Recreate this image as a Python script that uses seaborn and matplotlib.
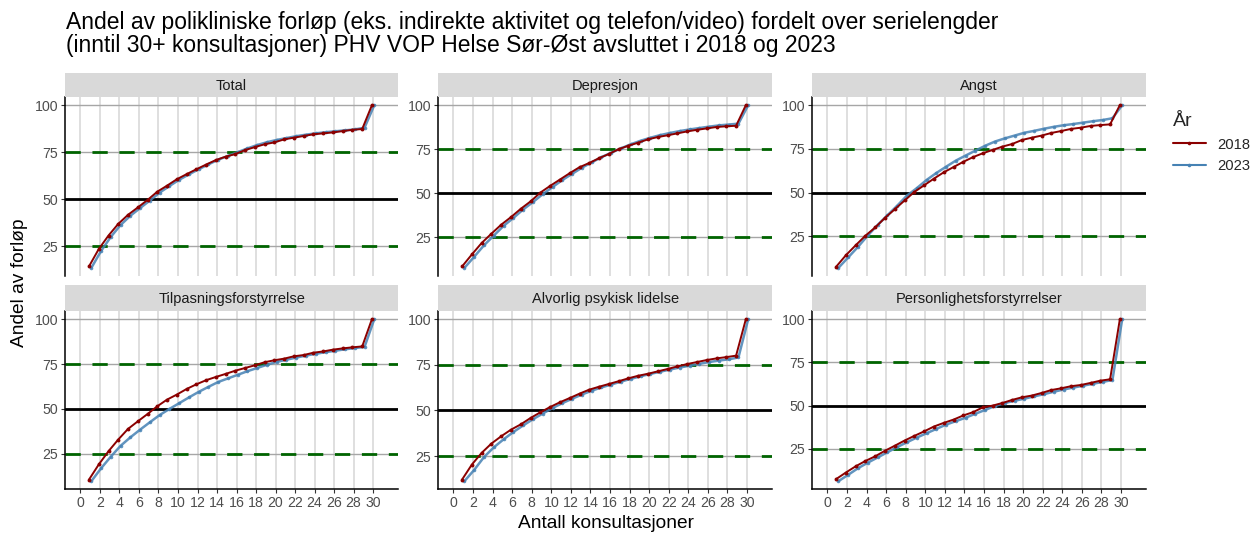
import numpy as np
import pandas as pd
import matplotlib
matplotlib.use("Agg")
import matplotlib.pyplot as plt
from matplotlib.lines import Line2D
import seaborn as sns

# Number of consultations (1..30, where 30 means 30+)
konsultasjoner = list(range(1, 31))
grupper = ["Total", "Depresjon", "Angst",
           "Tilpasningsforstyrrelse", "Alvorlig psykisk lidelse", "Personlighetsforstyrrelser"]
aar = ["2018", "2023"]

# Cumulative share of finished courses (%) per group and year
total_2018 = [14.3, 23.5, 30.7, 36.9, 41.7, 45.6, 49.6, 54.0, 57.2, 60.6, 63.3, 65.9, 68.4, 70.8, 72.6,
              74.0, 76.1, 77.7, 79.2, 80.2, 81.8, 82.7, 83.6, 84.5, 85.0, 85.5, 86.2, 86.9, 87.3, 100.0]
total_2023 = [13.5, 22.5, 30.0, 36.3, 41.2, 45.3, 49.3, 53.5, 57.0, 60.3, 63.2, 65.9, 68.5, 71.0, 73.0,
              75.0, 77.0, 78.8, 80.3, 81.5, 82.5, 83.5, 84.3, 85.0, 85.6, 86.1, 86.6, 87.1, 88.0, 100.0]
depresjon_2018 = [8.5, 15.3, 21.8, 27.1, 32.2, 36.5, 41.2, 45.4, 50.4, 54.2, 57.8, 61.4, 64.8, 67.2, 69.9,
                  72.3, 75.0, 77.0, 78.7, 80.6, 81.9, 82.9, 84.0, 85.1, 86.0, 86.8, 87.6, 88.0, 88.3, 100.0]
depresjon_2023 = [7.7, 14.0, 20.5, 26.0, 31.5, 36.0, 40.8, 45.0, 49.5, 53.5, 57.5, 61.0, 64.5, 67.5, 70.5,
                  73.0, 75.5, 77.8, 79.8, 81.5, 83.0, 84.2, 85.3, 86.2, 87.0, 87.8, 88.5, 89.0, 89.5, 100.0]
angst_2018 = [7.6, 14.2, 19.9, 25.4, 30.1, 35.6, 40.5, 45.5, 50.4, 54.2, 58.0, 61.6, 64.6, 67.6, 70.3,
              72.5, 74.4, 76.3, 77.8, 80.1, 81.4, 82.6, 84.1, 85.2, 86.4, 87.1, 88.1, 88.6, 89.0, 100.0]
angst_2023 = [7.0, 13.0, 19.0, 25.5, 31.5, 37.0, 42.5, 48.3, 52.5, 57.2, 61.2, 64.8, 68.3, 71.2, 74.0,
              76.8, 79.2, 81.0, 82.6, 84.2, 85.3, 86.5, 87.6, 88.5, 89.2, 90.0, 90.8, 91.5, 92.5, 100.0]
tilpasning_2018 = [10.7, 19.1, 26.5, 33.0, 38.9, 43.1, 47.2, 51.5, 55.2, 58.0, 61.1, 63.7, 66.0, 67.8, 69.5,
                   71.3, 72.8, 74.3, 76.0, 77.1, 78.0, 79.3, 80.0, 81.3, 82.0, 83.0, 83.7, 84.3, 84.8, 100.0]
tilpasning_2023 = [9.8, 17.0, 23.5, 29.5, 34.2, 38.5, 42.6, 46.6, 50.0, 53.2, 56.4, 59.5, 62.3, 65.0, 67.0,
                   69.0, 71.0, 72.8, 74.6, 76.2, 77.4, 78.6, 79.7, 80.7, 81.6, 82.4, 83.2, 83.9, 84.5, 100.0]
alvorlig_2018 = [12.2, 20.4, 26.8, 31.9, 35.9, 39.5, 42.4, 45.9, 49.0, 51.9, 54.5, 56.8, 59.2, 61.4, 63.0,
                 64.5, 66.0, 67.6, 69.0, 70.1, 71.4, 72.7, 74.1, 75.4, 76.5, 77.6, 78.5, 79.2, 80.0, 100.0]
alvorlig_2023 = [11.3, 17.5, 24.5, 29.8, 34.2, 38.2, 41.8, 45.2, 48.3, 51.3, 54.0, 56.4, 58.7, 60.8, 62.6,
                 64.2, 65.8, 67.3, 68.7, 70.0, 71.2, 72.4, 73.5, 74.5, 75.5, 76.5, 77.3, 78.0, 79.0, 100.0]
personlighet_2018 = [7.5, 11.3, 14.9, 18.0, 20.7, 23.9, 26.8, 29.8, 32.5, 35.1, 37.9, 40.0, 41.9, 44.3, 46.2,
                     49.0, 50.0, 51.5, 53.3, 54.8, 55.8, 57.3, 59.0, 60.0, 61.2, 61.9, 63.1, 64.4, 65.2, 100.0]
personlighet_2023 = [6.3, 10.0, 13.8, 17.0, 20.0, 23.0, 26.0, 28.8, 31.5, 34.0, 36.5, 39.0, 41.0, 43.0, 45.3,
                     47.5, 49.8, 51.5, 52.8, 54.0, 55.3, 56.6, 58.0, 59.3, 60.4, 61.5, 62.6, 63.7, 64.8, 100.0]

serier = {
    "Total": (total_2018, total_2023),
    "Depresjon": (depresjon_2018, depresjon_2023),
    "Angst": (angst_2018, angst_2023),
    "Tilpasningsforstyrrelse": (tilpasning_2018, tilpasning_2023),
    "Alvorlig psykisk lidelse": (alvorlig_2018, alvorlig_2023),
    "Personlighetsforstyrrelser": (personlighet_2018, personlighet_2023),
}

rows = []
for g in grupper:
    for a, vals in zip(aar, serier[g]):
        for k, v in zip(konsultasjoner, vals):
            rows.append({"gruppe": g, "aar": a, "konsultasjoner": k, "andel": v})
df = pd.DataFrame(rows)

# small horizontal dodge so the two years do not hide each other
dodge = {"2018": -0.12, "2023": 0.12}
df["x"] = df["konsultasjoner"] + df["aar"].map(dodge)

farger = {"2018": "#8B0000", "2023": "#4682B4"}

sns.set_theme(style="white")
plt.rcParams["font.family"] = ["Liberation Sans", "DejaVu Sans"]

W, H = 1250, 534
fig = plt.figure(figsize=(W / 100, H / 100), dpi=100)

cols = [(65.3, 398.0), (438.3, 772.0), (812.3, 1146.0)]
rad = [(72.7, 97.0, 276.0), (285.0, 311.0, 489.3)]  # strip top, panel top, panel bottom

tekstgra = "#4D4D4D"
tick_fs = 10.2

for i, g in enumerate(grupper):
    r, c = divmod(i, 3)
    x0, x1 = cols[c]
    st, pt, pb = rad[r]
    ax = fig.add_axes([x0 / W, 1 - pb / H, (x1 - x0) / W, (pb - pt) / H])
    sax = fig.add_axes([x0 / W, 1 - pt / H, (x1 - x0) / W, (pt - st) / H])

    # facet strip
    sax.set_facecolor("#D9D9D9")
    for s in sax.spines.values():
        s.set_visible(False)
    sax.set_xticks([])
    sax.set_yticks([])
    sax.text(0.5, 0.45, g, ha="center", va="center", fontsize=10.5, color="#1A1A1A",
             transform=sax.transAxes)

    ax.set_facecolor("white")
    # grid
    for xv in range(0, 31, 2):
        ax.axvline(xv, color="#D6D6D6", lw=1.1, zorder=0)
    for yv in (25, 50, 75, 100):
        ax.axhline(yv, color="#A6A6A6", lw=1.0, zorder=0)
    # reference lines
    ax.axhline(25, color="#006400", lw=2.0, ls=(0, (5.5, 4.2)), zorder=1)
    ax.axhline(75, color="#006400", lw=2.0, ls=(0, (5.5, 4.2)), zorder=1)
    ax.axhline(50, color="black", lw=2.0, zorder=1)

    sub = df[df["gruppe"] == g]
    sns.lineplot(data=sub[sub["aar"] == "2023"], x="x", y="andel", color=farger["2023"],
                 lw=1.8, alpha=0.85, marker="o", markersize=2.6, markeredgewidth=0,
                 ax=ax, legend=False, zorder=2)
    sns.lineplot(data=sub[sub["aar"] == "2018"], x="x", y="andel", color=farger["2018"],
                 lw=1.4, marker="o", markersize=2.8, markeredgewidth=0,
                 ax=ax, legend=False, zorder=3)

    lo = sub["andel"].min()
    hi = sub["andel"].max()
    pad = 0.05 * (hi - lo)
    ax.set_ylim(lo - pad, hi + pad)
    ax.set_xlim(-1.55, 32.55)
    ax.set_yticks([25, 50, 75, 100])
    ax.set_xticks(range(0, 31, 2))
    ax.set_xlabel("")
    ax.set_ylabel("")

    for s in ("top", "right"):
        ax.spines[s].set_visible(False)
    ax.spines["left"].set_color("black")
    ax.spines["left"].set_linewidth(1.1)
    if r == 0:
        ax.spines["bottom"].set_visible(False)
        ax.tick_params(axis="x", bottom=False, labelbottom=False)
    else:
        ax.spines["bottom"].set_color("black")
        ax.spines["bottom"].set_linewidth(1.1)
        ax.tick_params(axis="x", bottom=True, length=3, width=0.8, color="#333333",
                       labelsize=tick_fs, labelcolor=tekstgra, pad=2)
    ax.tick_params(axis="y", left=True, length=3, width=0.8, color="#333333",
                   labelsize=tick_fs, labelcolor=tekstgra, pad=2)

fig.text(66 / W, 1 - 11 / H,
         "Andel av polikliniske forløp (eks. indirekte aktivitet og telefon/video) fordelt over serielengder\n"
         "(inntil 30+ konsultasjoner) PHV VOP Helse Sør-Øst avsluttet i 2018 og 2023",
         ha="left", va="top", fontsize=16.5, color="black", linespacing=1.0)

fig.text(606 / W, 1 - 523 / H, "Antall konsultasjoner", ha="center", va="center",
         fontsize=13.8, color="black")
fig.text(20 / W, 1 - 283 / H, "Andel av forløp", ha="center", va="center",
         rotation=90, fontsize=13.8, color="black")

handles = [Line2D([], [], color=farger[a], lw=1.5, marker="o", markersize=2.6,
                  markeredgewidth=0) for a in aar]
leg = fig.legend(handles, aar, title="År", loc="upper left",
                 bbox_to_anchor=(1160 / W, 1 - 100 / H), frameon=False,
                 fontsize=10.6, title_fontsize=14, handlelength=2.2,
                 labelspacing=0.5, handletextpad=0.8)
leg._legend_box.align = "left"

fig.savefig("out.png", dpi=100)
